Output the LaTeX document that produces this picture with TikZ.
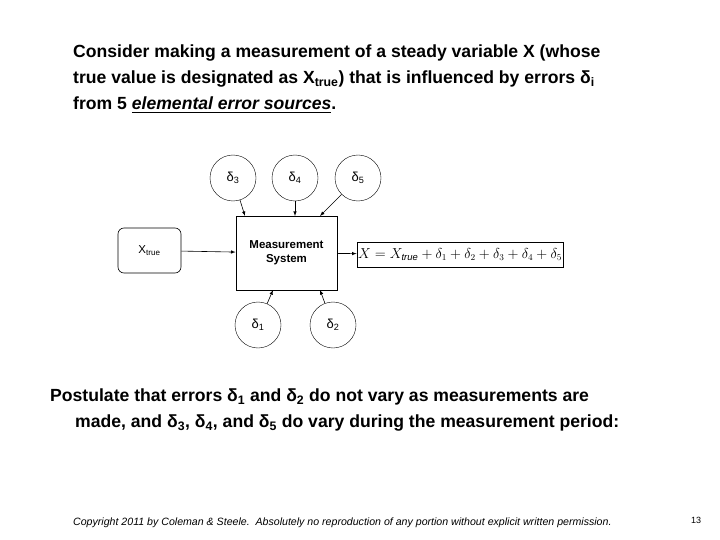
\documentclass[tikz,border=0pt]{standalone}
\usepackage{fontspec}
\setmainfont{Liberation Sans}
\usepackage{amsmath}
\begin{document}
\begin{tikzpicture}[x=1pt,y=-1pt,
  circ/.style={draw,circle,minimum size=46pt,inner sep=0pt,font=\fontsize{13}{14}\selectfont},
  arr/.style={-latex,line width=0.6pt},
  txt/.style={anchor=west,font=\bfseries\fontsize{17.6}{20}\selectfont,inner sep=0pt}]
\useasboundingbox (0,0) rectangle (720,540);
\node[txt] (t1) at (73,53) {Consider making a measurement of a steady variable X (whose};
\node[txt] (t2) at (73,79) {true value is designated as X\textsubscript{true}) that is influenced by errors δ\textsubscript{i}};
\node[txt] (t3) at (73,105) {from 5 \underline{\textit{elemental error sources}}.};
\node[draw,line width=0.8pt,minimum width=101pt,minimum height=74pt,align=center,font=\bfseries\fontsize{11.5}{14}\selectfont] (ms) at (286.5,253) {Measurement\\System};
\node[draw,rounded corners=6pt,line width=0.6pt,minimum width=63pt,minimum height=45pt,font=\fontsize{11.5}{12}\selectfont] (xt) at (149.5,250.5) {X\textsubscript{true}};
\node[draw,line width=0.8pt,minimum width=176pt,minimum height=25pt,inner sep=1pt] (eq) at (460,254.5) {\fontsize{13.5}{14}\selectfont$X = X_{\mathit{true}}+\delta_1+\delta_2+\delta_3+\delta_4+\delta_5$};
\node[circ] (d3) at (233,178) {δ\textsubscript{3}};
\node[circ] (d4) at (295,178) {δ\textsubscript{4}};
\node[circ] (d5) at (358,178) {δ\textsubscript{5}};
\node[circ] (d1) at (258,325) {δ\textsubscript{1}};
\node[circ] (d2) at (333,325) {δ\textsubscript{2}};
\draw[arr] (d3) -- (245,216);
\draw[arr] (d4) -- (295,216);
\draw[arr] (d5) -- (320,216);
\draw[arr] (d1) -- (273,290);
\draw[arr] (d2) -- (320,290);
\draw[arr] (xt) -- (ms);
\draw[arr] (ms) -- (eq);
\node[txt] (t4) at (50,397) {Postulate that errors δ\textsubscript{1} and δ\textsubscript{2} do not vary as measurements are};
\node[txt] (t5) at (75,423) {made, and δ\textsubscript{3}, δ\textsubscript{4}, and δ\textsubscript{5} do vary during the measurement period:};
\node[anchor=west,inner sep=0pt,font=\itshape\fontsize{10.6}{12}\selectfont] (cp) at (73,523) {Copyright 2011 by Coleman \& Steele.\ \ Absolutely no reproduction of any portion without explicit written permission.};
\node[inner sep=0pt,font=\fontsize{9}{10}\selectfont] (pg) at (696,520) {13};
\end{tikzpicture}
\end{document}
